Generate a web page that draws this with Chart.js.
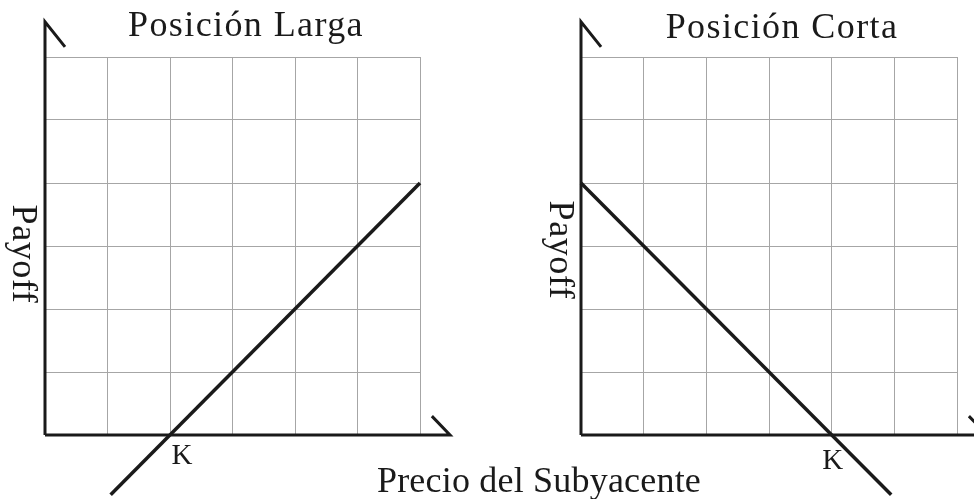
<!DOCTYPE html>
<html>
<head>
<meta charset="utf-8">
<script src="https://cdn.jsdelivr.net/npm/chart.js@4"></script>
<style>
html,body{margin:0;padding:0;background:#fff;}
#wrap{position:relative;width:974px;height:499px;overflow:hidden;}
canvas{position:absolute;left:0;top:0;}
</style>
</head>
<body>
<div id="wrap">
<canvas id="c1" width="974" height="499"></canvas>
<canvas id="c2" width="974" height="499"></canvas>
</div>
<script>
// ---- data ----
const gridTicks = [0, 1, 2, 3, 4, 5, 6];
const priceLong = [1.05, 6];
const payoffLong = [-0.95, 4];
const priceShort = [0, 4.95];
const payoffShort = [4, -0.95];
const strikeLong = 2;
const strikeShort = 4;
const titleLong = 'Posición Larga';
const titleShort = 'Posición Corta';
const yLabel = 'Payoff';
const xLabel = 'Precio del Subyacente';
const strikeLabel = 'K';

const SERIF = '"Liberation Serif", "Times New Roman", serif';
const INK = '#1a1a1a';

function toPoints(xs, ys) { return xs.map((x, i) => ({x: x, y: ys[i]})); }

function setSpacing(ctx, v) { if ('letterSpacing' in ctx) ctx.letterSpacing = v + 'px'; }

function makePlugin(cfg) {
  return {
    id: 'deco',
    beforeDatasetsDraw(chart) {
      const ctx = chart.ctx, xs = chart.scales.x, ys = chart.scales.y;
      const px = v => xs.getPixelForValue(v), py = v => ys.getPixelForValue(v);
      ctx.save();
      ctx.strokeStyle = INK;
      ctx.lineWidth = 3;
      ctx.lineCap = 'butt';
      // y axis
      ctx.beginPath();
      ctx.moveTo(px(0), py(0));
      ctx.lineTo(px(0), py(6.56));
      ctx.lineTo(px(0.32), py(6.16));
      ctx.stroke();
      // x axis
      ctx.beginPath();
      ctx.moveTo(px(0), py(0));
      ctx.lineTo(px(6.48), py(0));
      ctx.lineTo(px(6.19), py(0.3));
      ctx.stroke();
      ctx.restore();
    },
    afterDatasetsDraw(chart) {
      const ctx = chart.ctx, xs = chart.scales.x;
      ctx.save();
      ctx.fillStyle = INK;
      ctx.font = '36px ' + SERIF;
      ctx.textAlign = 'center';
      ctx.textBaseline = 'alphabetic';
      setSpacing(ctx, 1.4);
      ctx.fillText(cfg.title, cfg.titleX, cfg.titleY);
      if (cfg.xLabel) {
        setSpacing(ctx, 0.2);
        ctx.fillText(cfg.xLabel, cfg.xLabelX, cfg.xLabelY);
      }
      // rotated y label
      ctx.save();
      setSpacing(ctx, 0.6);
      ctx.translate(cfg.yLabelX, cfg.yLabelY);
      ctx.rotate(Math.PI / 2);
      ctx.fillText(yLabel, 0, 0);
      ctx.restore();
      // K label
      setSpacing(ctx, 0);
      ctx.font = '29px ' + SERIF;
      ctx.fillText(strikeLabel, xs.getPixelForValue(cfg.strike) + cfg.kDx, cfg.kY);
      ctx.restore();
    }
  };
}

function makeChart(id, xsData, ysData, padding, plugCfg) {
  return new Chart(document.getElementById(id), {
    type: 'scatter',
    data: {
      datasets: [{
        data: toPoints(xsData, ysData),
        showLine: true,
        borderColor: INK,
        borderWidth: 3.5,
        pointRadius: 0,
        clip: false
      }]
    },
    options: {
      responsive: false,
      animation: false,
      devicePixelRatio: 1,
      layout: {padding: padding},
      plugins: {legend: {display: false}, tooltip: {enabled: false}, title: {display: false}},
      scales: {
        x: {
          type: 'linear', min: 0, max: 6,
          afterBuildTicks: s => { s.ticks = gridTicks.map(v => ({value: v})); },
          ticks: {display: false},
          border: {display: false},
          grid: {color: '#a6a6a6', lineWidth: 1, drawTicks: false}
        },
        y: {
          type: 'linear', min: 0, max: 6,
          afterBuildTicks: s => { s.ticks = gridTicks.map(v => ({value: v})); },
          ticks: {display: false},
          border: {display: false},
          grid: {color: '#a6a6a6', lineWidth: 1, drawTicks: false}
        }
      }
    },
    plugins: [makePlugin(plugCfg)]
  });
}

makeChart('c1', priceLong, payoffLong,
  {left: 45, right: 554, top: 57, bottom: 64},
  {title: titleLong, titleX: 246, titleY: 36, xLabel: xLabel, xLabelX: 539, xLabelY: 492,
   yLabelX: 13, yLabelY: 254, strike: strikeLong, kDx: 12, kY: 464});

makeChart('c2', priceShort, payoffShort,
  {left: 581, right: 17, top: 57, bottom: 64},
  {title: titleShort, titleX: 782, titleY: 38, xLabel: null,
   yLabelX: 550, yLabelY: 250, strike: strikeShort, kDx: 1, kY: 469});
</script>
</body>
</html>
